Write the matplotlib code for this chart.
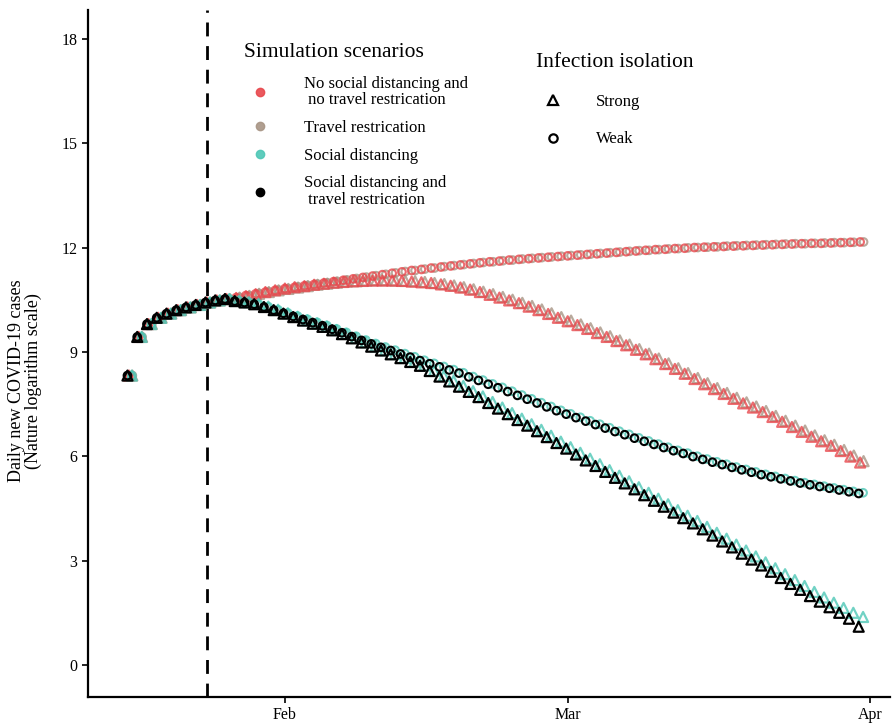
import numpy as np
import pandas as pd
import matplotlib
matplotlib.use("Agg")
import matplotlib.pyplot as plt
import matplotlib.dates as mdates
from matplotlib.lines import Line2D

plt.rcParams['font.family'] = ['Liberation Serif', 'DejaVu Serif']

# ---------------------------
# Data (log daily new cases, Jan 16 - Mar 31 2020)
# ---------------------------
dates = pd.date_range("2020-01-16", "2020-03-31", freq="D")

early = [8.32, 9.43, 9.80, 9.98, 10.10, 10.20, 10.28, 10.35, 10.42, 10.48, 10.52]

none_weak = early + [
    10.56, 10.62, 10.67, 10.72, 10.77, 10.82, 10.86, 10.90, 10.94, 10.98,
    11.02, 11.06, 11.10, 11.14, 11.18, 11.22, 11.26, 11.30, 11.34, 11.37,
    11.41, 11.44, 11.47, 11.50, 11.53, 11.56, 11.59, 11.61, 11.64, 11.66,
    11.68, 11.70, 11.72, 11.74, 11.76, 11.78, 11.80, 11.82, 11.84, 11.86,
    11.88, 11.90, 11.92, 11.94, 11.95, 11.97, 11.98, 12.00, 12.01, 12.02,
    12.03, 12.04, 12.05, 12.06, 12.07, 12.08, 12.09, 12.10, 12.11, 12.12,
    12.12, 12.13, 12.14, 12.15, 12.16]
none_strong = early + [
    10.55, 10.60, 10.66, 10.72, 10.77, 10.82, 10.86, 10.89, 10.93, 10.96,
    10.99, 11.01, 11.03, 11.04, 11.05, 11.05, 11.05, 11.04, 11.02, 11.00,
    10.98, 10.94, 10.90, 10.85, 10.79, 10.72, 10.64, 10.56, 10.48, 10.40,
    10.30, 10.20, 10.09, 9.98, 9.88, 9.77, 9.66, 9.54, 9.43, 9.31,
    9.19, 9.06, 8.93, 8.79, 8.65, 8.51, 8.37, 8.22, 8.07, 7.93,
    7.79, 7.65, 7.52, 7.40, 7.27, 7.13, 6.99, 6.84, 6.70, 6.56,
    6.43, 6.30, 6.15, 5.99, 5.82]
travel_weak = early + [
    10.57, 10.62, 10.68, 10.73, 10.78, 10.82, 10.87, 10.91, 10.95, 10.99,
    11.03, 11.07, 11.11, 11.15, 11.19, 11.23, 11.27, 11.31, 11.34, 11.38,
    11.41, 11.45, 11.48, 11.51, 11.54, 11.57, 11.59, 11.62, 11.64, 11.67,
    11.69, 11.71, 11.73, 11.75, 11.77, 11.79, 11.81, 11.83, 11.85, 11.87,
    11.89, 11.91, 11.92, 11.94, 11.96, 11.97, 11.99, 12.00, 12.01, 12.02,
    12.04, 12.05, 12.06, 12.07, 12.08, 12.09, 12.10, 12.11, 12.11, 12.12,
    12.13, 12.14, 12.14, 12.15, 12.16]
travel_strong = early + [
    10.56, 10.61, 10.67, 10.72, 10.77, 10.81, 10.85, 10.89, 10.93, 10.96,
    10.99, 11.02, 11.03, 11.05, 11.06, 11.06, 11.05, 11.04, 11.03, 11.01,
    10.98, 10.95, 10.91, 10.86, 10.80, 10.73, 10.66, 10.58, 10.50, 10.41,
    10.32, 10.22, 10.11, 10.00, 9.90, 9.79, 9.68, 9.56, 9.45, 9.33,
    9.21, 9.08, 8.95, 8.81, 8.67, 8.53, 8.39, 8.25, 8.10, 7.96,
    7.82, 7.68, 7.55, 7.43, 7.30, 7.16, 7.02, 6.88, 6.74, 6.60,
    6.46, 6.33, 6.18, 6.02, 5.86]
social_weak = early + [
    10.47, 10.43, 10.38, 10.30, 10.21, 10.12, 10.03, 9.94, 9.85, 9.76,
    9.66, 9.56, 9.45, 9.34, 9.24, 9.14, 9.05, 8.95, 8.86, 8.76,
    8.67, 8.58, 8.49, 8.40, 8.29, 8.19, 8.08, 7.98, 7.87, 7.76,
    7.65, 7.54, 7.43, 7.32, 7.22, 7.12, 7.02, 6.92, 6.82, 6.72,
    6.63, 6.53, 6.44, 6.35, 6.26, 6.17, 6.09, 6.00, 5.92, 5.84,
    5.77, 5.69, 5.62, 5.55, 5.48, 5.42, 5.36, 5.30, 5.24, 5.19,
    5.14, 5.09, 5.04, 4.99, 4.95]
social_strong = early + [
    10.47, 10.43, 10.38, 10.30, 10.21, 10.11, 10.01, 9.91, 9.82, 9.73,
    9.63, 9.52, 9.40, 9.28, 9.16, 9.05, 8.94, 8.83, 8.72, 8.61,
    8.46, 8.31, 8.17, 8.02, 7.87, 7.72, 7.56, 7.40, 7.24, 7.08,
    6.92, 6.76, 6.59, 6.42, 6.26, 6.10, 5.93, 5.77, 5.60, 5.44,
    5.28, 5.11, 4.95, 4.78, 4.62, 4.45, 4.29, 4.14, 3.97, 3.80,
    3.63, 3.46, 3.29, 3.12, 2.95, 2.78, 2.61, 2.44, 2.27, 2.10,
    1.94, 1.79, 1.64, 1.50, 1.38]
both_weak = early + [
    10.46, 10.42, 10.37, 10.29, 10.20, 10.11, 10.02, 9.93, 9.84, 9.75,
    9.65, 9.55, 9.44, 9.33, 9.23, 9.13, 9.04, 8.94, 8.85, 8.75,
    8.66, 8.57, 8.48, 8.39, 8.28, 8.18, 8.07, 7.97, 7.86, 7.75,
    7.64, 7.53, 7.42, 7.31, 7.21, 7.11, 7.01, 6.91, 6.81, 6.71,
    6.62, 6.52, 6.43, 6.34, 6.25, 6.16, 6.08, 5.99, 5.91, 5.83,
    5.76, 5.68, 5.61, 5.54, 5.47, 5.41, 5.35, 5.29, 5.23, 5.18,
    5.13, 5.08, 5.03, 4.98, 4.93]
both_strong = early + [
    10.46, 10.42, 10.37, 10.29, 10.20, 10.10, 10.00, 9.90, 9.81, 9.72,
    9.62, 9.51, 9.39, 9.27, 9.15, 9.04, 8.93, 8.82, 8.71, 8.60,
    8.45, 8.29, 8.15, 8.00, 7.85, 7.70, 7.53, 7.37, 7.21, 7.04,
    6.88, 6.72, 6.55, 6.38, 6.22, 6.05, 5.88, 5.72, 5.55, 5.38,
    5.22, 5.05, 4.88, 4.72, 4.55, 4.38, 4.22, 4.07, 3.90, 3.72,
    3.55, 3.38, 3.20, 3.03, 2.86, 2.68, 2.50, 2.33, 2.16, 1.98,
    1.82, 1.66, 1.50, 1.33, 1.10]

scenario_labels = ["No social distancing and\n no travel restrication",
                   "Travel restrication",
                   "Social distancing",
                   "Social distancing and\n travel restrication"]
scenario_colors = ["#E8474C", "#A89585", "#4EC7B6", "#000000"]
weak_series = [none_weak, travel_weak, social_weak, both_weak]
strong_series = [none_strong, travel_strong, social_strong, both_strong]
dodge = [0.0, 0.35, 0.3, -0.15]
layer = [3, 2, 4, 5]  # red above tan, black on top
lockdown = pd.Timestamp("2020-01-24")

# ---------------------------
# Plot
# ---------------------------
fig = plt.figure(figsize=(8.94, 7.24), dpi=100)
ax = fig.add_axes([0.0984, 0.0373, 0.897, 0.949])

x = mdates.date2num(dates)
for i in range(4):
    a = 1.0 if i == 3 else 0.8
    ax.scatter(x + dodge[i], weak_series[i], marker="o", s=30,
               facecolors="none", edgecolors=scenario_colors[i],
               linewidths=1.5, alpha=a, zorder=layer[i])
    ax.scatter(x + dodge[i], strong_series[i], marker="^", s=52,
               facecolors="none", edgecolors=scenario_colors[i],
               linewidths=1.6, alpha=a, zorder=layer[i])

ax.axvline(mdates.date2num(lockdown), color="black", lw=2,
           linestyle=(0, (5, 3.5)), zorder=1)

feb1 = mdates.date2num(pd.Timestamp("2020-02-01"))
ax.set_xlim(feb1 - 20.2, feb1 + 62.05)
ax.set_ylim(-0.92, 18.83)
ax.set_yticks([0, 3, 6, 9, 12, 15, 18])
ax.xaxis.set_major_locator(mdates.MonthLocator())
ax.xaxis.set_major_formatter(mdates.DateFormatter("%b"))

for s in ["top", "right"]:
    ax.spines[s].set_visible(False)
for s in ["left", "bottom"]:
    ax.spines[s].set_linewidth(1.6)
ax.tick_params(axis="both", labelsize=11.5, length=4, width=1.2)
ax.set_ylabel("Daily new COVID-19 cases\n(Nature logarithm scale)",
              fontsize=13, linespacing=1.0)
ax.yaxis.set_label_coords(-0.057, 0.46)

# Legends
scen_handles = [Line2D([], [], marker="o", color=c, lw=0, markersize=6,
                       alpha=0.9 if c != "#000000" else 1.0)
                for c in scenario_colors]
leg1 = ax.legend(scen_handles, scenario_labels, title="Simulation scenarios",
                 loc="upper left", bbox_to_anchor=(0.265, 0.95),
                 bbox_transform=fig.transFigure, frameon=False,
                 fontsize=12, title_fontsize=15.5, handletextpad=1.6,
                 labelspacing=0.7, alignment="left", borderaxespad=0)
leg1._legend_box.sep = 10  # extra room under the title
for t in leg1.get_texts():
    t.set_linespacing(1.05)
ax.add_artist(leg1)

iso_handles = [Line2D([], [], marker="^", color="black", lw=0, markersize=7,
                      markerfacecolor="none", markeredgewidth=1.6),
               Line2D([], [], marker="o", color="black", lw=0, markersize=6,
                      markerfacecolor="none", markeredgewidth=1.6)]
ax.legend(iso_handles, ["Strong", "Weak"], title="Infection isolation",
          loc="upper left", bbox_to_anchor=(0.592, 0.936),
          bbox_transform=fig.transFigure, frameon=False,
          fontsize=12, title_fontsize=15.5, handletextpad=1.6,
          labelspacing=1.3, alignment="left", borderaxespad=0)

fig.savefig("out.png", dpi=100)
